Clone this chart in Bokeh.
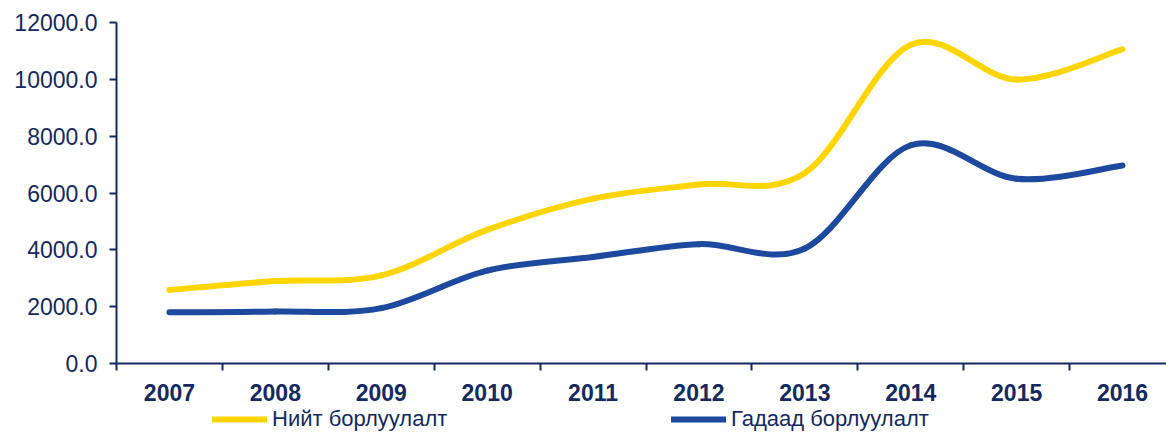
from bokeh.plotting import figure
from bokeh.layouts import column
from bokeh.models import (Range1d, FixedTicker, NumeralTickFormatter, Legend, LegendItem,
                          ColumnDataSource)
from bokeh.embed import file_html
from bokeh.resources import INLINE

years = ["2007", "2008", "2009", "2010", "2011", "2012", "2013", "2014", "2015", "2016"]
total_sales = [2590, 2900, 3100, 4700, 5800, 6300, 6700, 11220, 9990, 11060]
foreign_sales = [1800, 1830, 1950, 3270, 3750, 4200, 4050, 7680, 6500, 6970]
series_names = ["Нийт борлуулалт", "Гадаад борлуулалт"]
y_ticks = [0, 2000, 4000, 6000, 8000, 10000, 12000]

NAVY = "#13295F"
YELLOW = "#FFD500"
BLUE = "#1D4A9E"
FONT = "Liberation Sans"

xs = list(range(len(years)))

def bezier_source(ys):
    n = len(ys)
    pts = list(zip(xs, ys))
    d = dict(x0=[], y0=[], x1=[], y1=[], cx0=[], cy0=[], cx1=[], cy1=[])
    for i in range(n - 1):
        p0 = pts[max(i - 1, 0)]
        p1 = pts[i]
        p2 = pts[i + 1]
        p3 = pts[min(i + 2, n - 1)]
        d["x0"].append(p1[0]); d["y0"].append(p1[1])
        d["x1"].append(p2[0]); d["y1"].append(p2[1])
        d["cx0"].append(p1[0] + (p2[0] - p0[0]) / 6.0)
        d["cy0"].append(p1[1] + (p2[1] - p0[1]) / 6.0)
        d["cx1"].append(p2[0] - (p3[0] - p1[0]) / 6.0)
        d["cy1"].append(p2[1] - (p3[1] - p1[1]) / 6.0)
    return ColumnDataSource(d)

W = 1166
H_MAIN = 406
H_LEG = 26
left = 116
cat_px = 105.9
frame_w = W - left

p = figure(width=W, height=H_MAIN, output_backend="svg", toolbar_location=None,
           x_range=Range1d(-0.5, -0.5 + frame_w / cat_px), y_range=Range1d(0, 12000),
           min_border_left=left, min_border_right=0, min_border_top=22,
           min_border_bottom=H_MAIN - 363)
p.outline_line_color = None
p.xgrid.visible = False
p.ygrid.visible = False
p.background_fill_color = "white"
p.border_fill_color = "white"

p.bezier(x0="x0", y0="y0", x1="x1", y1="y1", cx0="cx0", cy0="cy0", cx1="cx1", cy1="cy1",
         source=bezier_source(total_sales), line_color=YELLOW, line_width=6, line_cap="round")
p.bezier(x0="x0", y0="y0", x1="x1", y1="y1", cx0="cx0", cy0="cy0", cx1="cx1", cy1="cy1",
         source=bezier_source(foreign_sales), line_color=BLUE, line_width=6, line_cap="round")

# y axis
ya = p.yaxis[0]
ya.ticker = FixedTicker(ticks=y_ticks)
ya.formatter = NumeralTickFormatter(format="0.0")
ya.axis_line_color = NAVY
ya.axis_line_width = 2
ya.major_tick_line_color = NAVY
ya.major_tick_line_width = 2
ya.major_tick_out = 7
ya.major_tick_in = 0
ya.minor_tick_line_color = None
ya.major_label_standoff = 12
ya.major_label_text_font = FONT
ya.major_label_text_font_size = "23px"
ya.major_label_text_color = NAVY

# x axis
xa = p.xaxis[0]
xa.ticker = FixedTicker(ticks=xs, minor_ticks=[x - 0.5 for x in xs])
xa.major_label_overrides = {i: y for i, y in zip(xs, years)}
xa.axis_line_color = NAVY
xa.axis_line_width = 2
xa.major_tick_line_color = None
xa.major_tick_out = 0
xa.major_tick_in = 0
xa.minor_tick_line_color = NAVY
xa.minor_tick_line_width = 2
xa.minor_tick_out = 7
xa.minor_tick_in = 0
xa.major_label_standoff = 13
xa.major_label_text_font = FONT
xa.major_label_text_font_style = "bold"
xa.major_label_text_font_size = "23px"
xa.major_label_text_color = NAVY

# legend strip (its series renderers lie outside its visible range; only the legend shows)
q = figure(width=W, height=H_LEG, output_backend="svg", toolbar_location=None,
           x_axis_location=None, y_axis_location=None,
           x_range=Range1d(0, W), y_range=Range1d(0, H_LEG),
           min_border=0)
q.outline_line_color = None
q.xgrid.visible = False
q.ygrid.visible = False
q.border_fill_color = "white"
l1 = q.line(x=xs, y=total_sales, line_color=YELLOW, line_width=6, line_cap="round")
l2 = q.line(x=xs, y=foreign_sales, line_color=BLUE, line_width=6, line_cap="round")

for name, rend, xpos in [(series_names[0], l1, 96), (series_names[1], l2, 555)]:
    lg = Legend(items=[LegendItem(label=name, renderers=[rend])], location=(xpos, 0),
                orientation="horizontal", padding=0, margin=0, spacing=0,
                glyph_width=55, glyph_height=H_LEG, label_height=H_LEG, label_standoff=5,
                label_text_font=FONT, label_text_font_size="22px", label_text_color=NAVY,
                border_line_color=None, background_fill_alpha=0)
    q.add_layout(lg, "center")

layout = column(p, q, spacing=0)
open("out.html", "w").write(file_html(layout, INLINE))
